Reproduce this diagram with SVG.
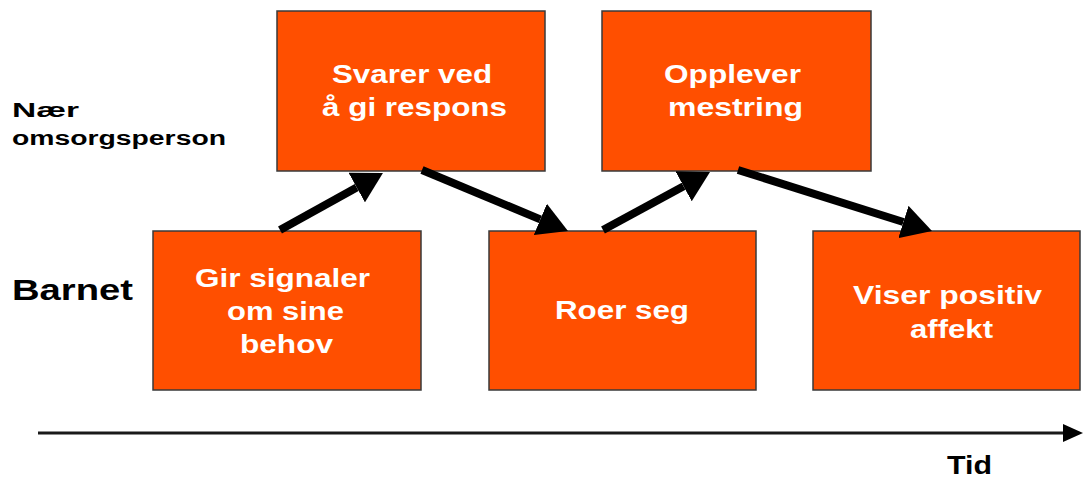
<svg xmlns="http://www.w3.org/2000/svg" width="1084" height="479" viewBox="0 0 1084 479">
<style>
.box{fill:#FF4F00;stroke:#3a3a3a;stroke-width:1.5}
.bt{font-family:"Liberation Sans",Arial,sans-serif;font-weight:bold;font-size:25px;fill:#fff;text-anchor:start}
.lbl{font-family:"Liberation Sans",Arial,sans-serif;font-weight:bold;fill:#000}
.arr{stroke:#000;stroke-width:8;fill:none;marker-end:url(#ah)}
</style>
<defs>
<marker id="ah" markerUnits="userSpaceOnUse" markerWidth="30" markerHeight="34" viewBox="0 0 30 34" refX="0" refY="17" orient="auto">
<path d="M0,0 L30,17 L0,34 z" fill="#000"/>
</marker>
</defs>
<rect width="1084" height="479" fill="#fff"/>
<g id="labels">
<text class="lbl" x="12" y="117" font-size="20" textLength="67" lengthAdjust="spacingAndGlyphs">Nær</text>
<text class="lbl" x="12" y="145" font-size="20" textLength="214" lengthAdjust="spacingAndGlyphs">omsorgsperson</text>
<text class="lbl" x="12" y="300" font-size="29" textLength="121" lengthAdjust="spacingAndGlyphs">Barnet</text>
<text class="lbl" x="947" y="474" font-size="25" textLength="45" lengthAdjust="spacingAndGlyphs">Tid</text>
</g>
<g id="node-gir">
<rect class="box" x="153" y="231" width="268" height="159"/>
<text class="bt" x="195" y="287" textLength="175" lengthAdjust="spacingAndGlyphs">Gir signaler</text>
<text class="bt" x="227" y="320" textLength="117" lengthAdjust="spacingAndGlyphs">om sine</text>
<text class="bt" x="240" y="353" textLength="93" lengthAdjust="spacingAndGlyphs">behov</text>
</g>
<g id="node-svarer">
<rect class="box" x="277" y="11" width="268" height="160"/>
<text class="bt" x="332" y="83" textLength="160" lengthAdjust="spacingAndGlyphs">Svarer ved</text>
<text class="bt" x="322" y="116" textLength="185" lengthAdjust="spacingAndGlyphs">å gi respons</text>
</g>
<g id="node-opplever">
<rect class="box" x="602" y="11" width="269" height="160"/>
<text class="bt" x="664" y="83" textLength="137" lengthAdjust="spacingAndGlyphs">Opplever</text>
<text class="bt" x="668" y="116" textLength="135" lengthAdjust="spacingAndGlyphs">mestring</text>
</g>
<g id="node-roer">
<rect class="box" x="489" y="231" width="267" height="159"/>
<text class="bt" x="555" y="319" textLength="134" lengthAdjust="spacingAndGlyphs">Roer seg</text>
</g>
<g id="node-viser">
<rect class="box" x="813" y="231" width="267" height="159"/>
<text class="bt" x="853" y="304" textLength="189" lengthAdjust="spacingAndGlyphs">Viser positiv</text>
<text class="bt" x="910" y="338" textLength="83" lengthAdjust="spacingAndGlyphs">affekt</text>
</g>
<g id="connectors">
<line class="arr" x1="280" y1="230" x2="356.7" y2="187.5"/>
<line class="arr" x1="422" y1="170" x2="540.3" y2="219.4"/>
<line class="arr" x1="603" y1="230" x2="683.6" y2="186.3"/>
<line class="arr" x1="738" y1="170" x2="903.4" y2="222"/>
<line x1="38" y1="433" x2="1066" y2="433" stroke="#1a1a1a" stroke-width="3"/>
<polygon points="1063,424 1083,433 1063,442" fill="#000"/>
</g>
</svg>
